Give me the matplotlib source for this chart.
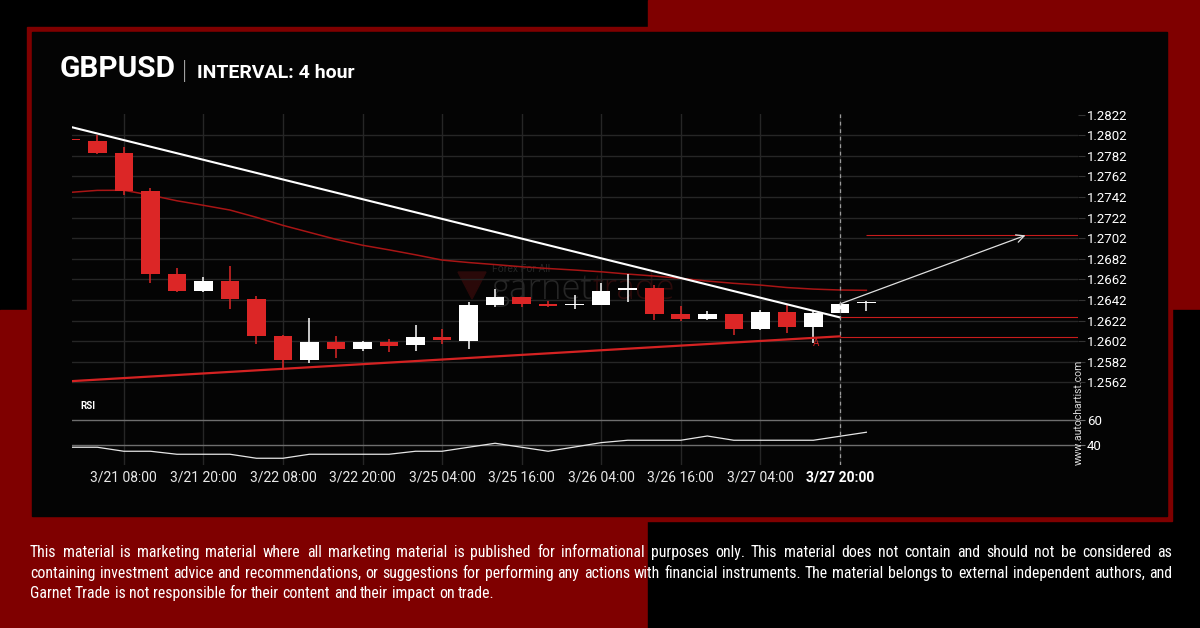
import matplotlib
matplotlib.use('Agg')
import matplotlib.pyplot as plt
from matplotlib.patches import Rectangle, Polygon
from matplotlib.transforms import IdentityTransform
from matplotlib import font_manager

plt.rcParams['font.family'] = ['Roboto', 'DejaVu Sans']

W, H = 1200, 628

# candles, 4 hour bars
opens = [1.27975, 1.27965, 1.27848, 1.27479, 1.26672, 1.26507, 1.26604, 1.26429,
         1.26070, 1.25839, 1.26011, 1.25946, 1.26011, 1.25985, 1.26060, 1.26024,
         1.26374, 1.26449, 1.26383, 1.26367, 1.26374, 1.26518, 1.26533, 1.26283,
         1.26235, 1.26283, 1.26138, 1.26303, 1.26157, 1.26296, 1.26388]
highs = [1.27978, 1.28023, 1.27903, 1.27505, 1.26730, 1.26643, 1.26750, 1.26458,
         1.26078, 1.26242, 1.26070, 1.26024, 1.26044, 1.26173, 1.26142, 1.26400,
         1.26527, 1.26452, 1.26413, 1.26465, 1.26588, 1.26672, 1.26565, 1.26358,
         1.26312, 1.26285, 1.26320, 1.26368, 1.26312, 1.26381, 1.26411]
lows = [1.27968, 1.27835, 1.27437, 1.26582, 1.26500, 1.26500, 1.26335, 1.25989,
        1.25756, 1.25810, 1.25853, 1.25920, 1.25911, 1.25924, 1.25989, 1.25946,
        1.26354, 1.26348, 1.26348, 1.26335, 1.26370, 1.26397, 1.26228, 1.26218,
        1.26225, 1.26080, 1.26125, 1.26102, 1.26003, 1.26296, 1.26316]
closes = [1.27970, 1.27851, 1.27482, 1.26675, 1.26507, 1.26604, 1.26432, 1.26072,
          1.25839, 1.26011, 1.25946, 1.26011, 1.25975, 1.26060, 1.26033, 1.26371,
          1.26449, 1.26383, 1.26364, 1.26371, 1.26507, 1.26521, 1.26287, 1.26235,
          1.26283, 1.26138, 1.26303, 1.26157, 1.26293, 1.26381, 1.26390]

# moving average
ma = [1.27466, 1.27485, 1.27486, 1.27439, 1.27384, 1.27340, 1.27294, 1.27223,
      1.27145, 1.27077, 1.27009, 1.26952, 1.26907, 1.26859, 1.26808, 1.26784,
      1.26764, 1.26743, 1.26726, 1.26711, 1.26694, 1.26672, 1.26653, 1.26630,
      1.26604, 1.26582, 1.26565, 1.26541, 1.26526, 1.26517, 1.26514]

# RSI
rsi = [38.4, 38.4, 35.2, 35.2, 32.8, 32.8, 32.8, 29.6, 29.6, 32.8, 32.8, 32.8,
       32.8, 35.2, 35.2, 38.4, 41.6, 38.4, 35.2, 38.6, 42.1, 44.0, 44.0, 44.0,
       47.4, 44.0, 44.0, 44.0, 44.0, 47.2, 50.4]

# pattern lines
resist_x = [0.05, 29]
resist_y = [1.28098, 1.26251]
support_x = [0.05, 29]
support_y = [1.25632, 1.26067]
level_lo = 1.26057
level_mid = 1.26251
level_target = 1.27048
arrow_from = (29, 1.26381)
arrow_to = (36, 1.27048)

tick_pos = [2, 5, 8, 11, 14, 17, 20, 23, 26, 29]
tick_labels = ['3/21 08:00', '3/21 20:00', '3/22 08:00', '3/22 20:00', '3/25 04:00',
               '3/25 16:00', '3/26 04:00', '3/26 16:00', '3/27 04:00', '3/27 20:00']
price_ticks = [1.2562, 1.2582, 1.2602, 1.2622, 1.2642, 1.2662, 1.2682, 1.2702,
               1.2722, 1.2742, 1.2762, 1.2782, 1.2802, 1.2822]
rsi_ticks = [40, 60]

footer = [
    "This material is marketing material where all marketing material is published for informational purposes only. This material does not contain and should not be considered as",
    "containing investment advice and recommendations, or suggestions for performing any actions with financial instruments. The material belongs to external independent authors, and",
    "Garnet Trade is not responsible for their content and their impact on trade.",
]

RED = '#dc2626'
DARK = '#7f0000'


def fr(x0, y0, x1, y1):
    # pixel box (top-left origin) -> figure fraction rect
    return (x0 / W, 1 - y1 / H), (x1 - x0) / W, (y1 - y0) / H


fig = plt.figure(figsize=(12, 6.28), dpi=100, facecolor='black')

# background blocks and frame
for box, col in [((0, 0, 648, 310), '#000000'), ((648, 0, 1200, 310), DARK),
                 ((0, 310, 648, 628), DARK), ((648, 310, 1200, 628), '#000000'),
                 ((27, 27, 1172, 521), DARK), ((32, 32, 1167, 516), '#040404')]:
    xy, w, h = fr(*box)
    fig.add_artist(Rectangle(xy, w, h, transform=fig.transFigure, color=col, zorder=-10))

ax = fig.add_axes([72 / W, 1 - 395 / H, (1078 - 72) / W, (395 - 114) / H])
ax_r = fig.add_axes([72 / W, 1 - 465 / H, (1078 - 72) / W, 70 / H], sharex=ax)

for a in (ax, ax_r):
    a.set_facecolor('none')
    for s in a.spines.values():
        s.set_visible(False)
    a.set_xticks(tick_pos)
    a.grid(axis='x', color='#262626', lw=1)

ax.set_xlim(0.045, 37.98)
ax.set_ylim(1.25497, 1.28227)
ax.set_yticks(price_ticks)
ax.yaxis.tick_right()
ax.tick_params(axis='y', colors='#333333', labelcolor='white', labelsize=9.5, length=5, pad=1.5)
ax.tick_params(axis='x', length=0, labelbottom=False)
ax.grid(axis='y', color='#262626', lw=1)
ax.set_axisbelow(True)
fig.canvas.draw()
ax.yaxis.get_gridlines()[-1].set_visible(False)

# watermark
ax.add_patch(Polygon([(458 / W, 1 - 272 / H), (486 / W, 1 - 272 / H), (472 / W, 1 - 299 / H)],
                     closed=True, transform=fig.transFigure, color='#2a0909', zorder=0.5))
ax.text(491 / W, 1 - 299 / H, 'garnet', transform=fig.transFigure, color='#262626',
        fontsize=25, family='Open Sans', weight='light', zorder=0.5)
ax.text(593 / W, 1 - 299 / H, 'trade', transform=fig.transFigure, color='#2c0b0b',
        fontsize=25, family='Open Sans', weight='light', zorder=0.5)
ax.text(492 / W, 1 - 272 / H, 'Forex For All', transform=fig.transFigure, color='#262626',
        fontsize=7.5, zorder=0.5)

# candles
for i in range(len(opens)):
    o, h, l, c = opens[i], highs[i], lows[i], closes[i]
    col = 'white' if c >= o else RED
    ax.vlines(i, l, h, color=col, lw=1.1, zorder=3)
    ax.bar(i, max(abs(c - o), 0.00016), bottom=min(o, c), width=0.7, color=col, zorder=3)

ax.plot(range(len(ma)), ma, color='#a81515', lw=1.1, zorder=2)
ax.plot(resist_x, resist_y, color='white', lw=1.5, zorder=4)
ax.plot(support_x, support_y, color='#d42222', lw=1.6, zorder=4)
ax.hlines([level_lo, level_mid], 29, 37.98, color='#c81c1c', lw=0.8, zorder=2)
ax.hlines(level_target, 30, 37.98, color='#c81c1c', lw=0.8, zorder=2)
ax.annotate('', xy=arrow_to, xytext=arrow_from,
            arrowprops=dict(arrowstyle='->', color='#e0e0e0', lw=0.9,
                            mutation_scale=14, shrinkA=0, shrinkB=0), zorder=5)
ax.text(28.1, 1.26002, 'A', color='#d42222', fontsize=7, ha='center', va='center', zorder=5)

# RSI panel
ax_r.plot(range(len(rsi)), rsi, color='#e6e6e6', lw=0.9, zorder=3)
ax_r.set_ylim(24.2, 80.2)
ax_r.set_yticks(rsi_ticks)
ax_r.yaxis.tick_right()
ax_r.grid(axis='y', color='#6e6e6e', lw=1)
ax_r.tick_params(axis='y', colors='#6e6e6e', labelcolor='white', labelsize=9.5, length=5, pad=1.5)
ax_r.set_xticks(tick_pos, tick_labels)
ax_r.tick_params(axis='x', length=0, labelcolor='#e8e8e8', labelsize=10, pad=4)
ax_r.get_xticklabels()[-1].set_fontweight('bold')
ax_r.get_xticklabels()[-1].set_color('white')
ax_r.text(80 / W, 1 - 406 / H, 'RSI', transform=fig.transFigure, color='white',
          fontsize=7, weight='bold', va='center')

# current bar marker through both panels
for a in (ax, ax_r):
    a.axvline(29, color='#9a9a9a', lw=0.9, ls=(0, (3, 3)), zorder=6)

fig.text(1079 / W, 1 - 412 / H, 'www.autochartist.com', rotation=90, color='#dddddd',
         fontsize=7.5, ha='center', va='center')

# title
fig.text(60 / W, 1 - 77 / H, 'GBPUSD', color='white', fontsize=21.5, weight='bold', va='baseline')
fig.text(182 / W, 1 - 79 / H, '|', color='white', fontsize=19, weight='light', va='baseline')
fig.text(197 / W, 1 - 77.5 / H, 'INTERVAL: 4 hour', color='white', fontsize=14,
         weight='bold', va='baseline')

# footer, justified like the original; prefer a narrow face if one is installed
foot_font = ['Roboto']
for name in ['Roboto Condensed', 'Liberation Sans Narrow']:
    try:
        font_manager.findfont(font_manager.FontProperties(family=name), fallback_to_default=False)
        foot_font = [name]
        break
    except ValueError:
        pass
foot_font = foot_font + ['DejaVu Sans']
rend = fig.canvas.get_renderer()


def width(s, fs):
    t = fig.text(0, 0, s, fontsize=fs, family=foot_font)
    w = t.get_window_extent(rend).width
    t.remove()
    return w


fs = 10.2
natural = width(footer[1], fs)
fs = min(fs * 1125 / natural, 11.5)
space = width('a a', fs) - width('aa', fs)
x0, x1 = 30, 1172
for k, line in enumerate(footer):
    y = round(557 + k * 20.5)
    words = line.split()
    ws = [width(w, fs) for w in words]
    gap = space if k == len(footer) - 1 else (x1 - x0 - sum(ws)) / (len(words) - 1)
    x = x0
    for w, wd in zip(words, ws):
        fig.text(round(x), H - y, w, transform=IdentityTransform(), fontsize=fs,
                 family=foot_font, color='white', va='baseline')
        x += wd + gap

fig.savefig('out.png', dpi=100, facecolor=fig.get_facecolor())
